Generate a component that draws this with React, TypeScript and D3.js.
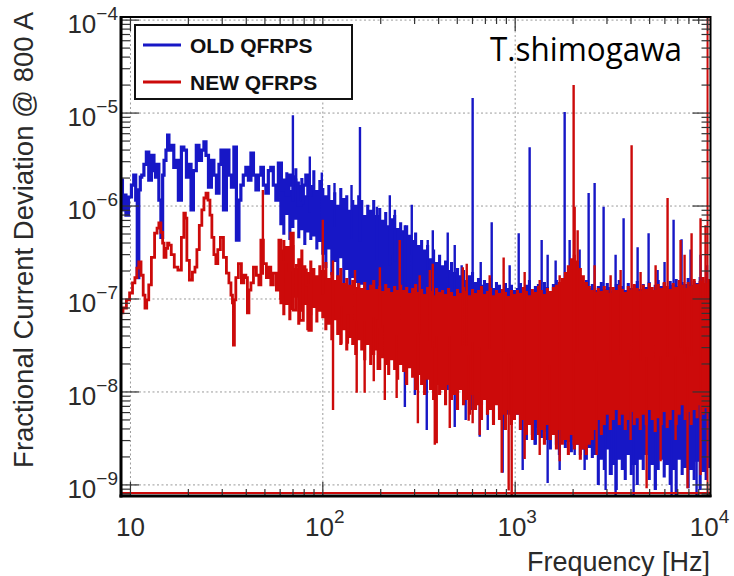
import React from 'react';
import * as d3 from 'd3';

// ---------- axis setup ----------
const X_DOMAIN: [number, number] = [8.93, 10360];
const Y_DOMAIN: [number, number] = [7.6e-10, 1.08e-4];
const X_TICKS = [10, 100, 1000, 10000];
const X_TICK_EXP = ['', '2', '3', '4'];
const Y_TICKS = [1e-9, 1e-8, 1e-7, 1e-6, 1e-5, 1e-4];
const Y_TICK_EXP = ['\u22129', '\u22128', '\u22127', '\u22126', '\u22125', '\u22124'];
const X_TITLE = 'Frequency [Hz]';
const Y_TITLE = 'Fractional Current Deviation @ 800 A';
const SERIES_NAMES = ['OLD QFRPS', 'NEW QFRPS'];
const AUTHOR = 'T.shimogawa';

// ---------- frequency bins of the dense noise region [Hz] ----------
const NOISE_FREQ = [
  60.5, 62.7, 65.0, 67.4, 69.9, 72.4, 75.0, 77.8, 80.6, 83.6, 86.6, 89.8, 93.1, 96.5,
  100, 103.7, 107.5, 111.4, 115.4, 119.6, 124.0, 128.5, 133.2, 138.1, 143.1, 148.3, 153.7,
  159.4, 165.2, 171.2, 177.4, 183.9, 190.6, 197.6, 204.8, 212.3, 220.0, 228.0, 236.3, 245.0, 253.9,
  263.2, 272.8, 282.7, 293.0, 303.7, 314.8, 326.3, 338.2, 350.5, 363.3, 376.6, 390.3, 404.6,
  419.3, 434.6, 450.5, 466.9, 484.0, 501.6, 519.9, 538.9, 558.6, 579.0, 600.1, 622.0, 644.7, 668.2,
  692.6, 717.9, 744.1, 771.3, 799.4, 828.6, 858.8, 890.2, 922.7, 956.4, 991.3,
  1027, 1065, 1104, 1144, 1186, 1229, 1274, 1321, 1369, 1419, 1471, 1524, 1580, 1638,
  1697, 1759, 1823, 1890, 1959, 2031, 2105, 2181, 2261, 2344, 2429, 2518,
  2610, 2705, 2804, 2906, 3012, 3122, 3236, 3354, 3477, 3604, 3735, 3872, 4013, 4159, 4311, 4469,
  4632, 4801, 4976, 5158, 5346, 5541, 5743, 5953, 6170, 6395, 6629, 6871, 7121, 7381, 7651, 7930,
  8219, 8519, 8830, 9153, 9487, 9833, 10190,
];

// ---------- OLD QFRPS (blue) ----------
const OLD_TRACE: [number, number][] = [
  [8.93, 1.68e-6], [9.03, 1.9e-6], [9.14, 9.1e-7], [9.36, 1.31e-6], [9.59, 8.0e-7], [9.94, 1.25e-6],
  [10.3, 1.68e-6], [10.5, 2.15e-6], [10.8, 1.16e-6], [10.9, 1.7e-7], [11.2, 1.49e-6], [11.3, 2.05e-6],
  [11.6, 2.15e-6], [11.9, 2.8e-6], [12.3, 3.8e-6], [12.6, 1.9e-6], [13.1, 3.5e-6], [13.4, 2.4e-6],
  [13.6, 2.05e-6], [13.9, 2.8e-6], [14.2, 1.16e-6], [14.6, 4.6e-7], [14.8, 2.15e-6], [15.1, 3.1e-6],
  [15.5, 4.0e-6], [15.7, 5.8e-6], [16.0, 4.0e-6], [16.6, 4.5e-6], [17.0, 2.6e-6], [17.4, 3.1e-6],
  [18.1, 1.16e-6], [18.7, 4.3e-6], [19.2, 4.0e-6], [19.9, 2.05e-6], [20.4, 2.8e-6], [20.9, 9.1e-7],
  [21.6, 2.4e-6], [22.4, 4.5e-6], [23.0, 3.1e-6], [23.8, 4.0e-6], [24.4, 4.9e-6], [25.0, 3.5e-6],
  [25.9, 1.6e-6], [26.8, 3.1e-6], [27.5, 2.15e-6], [28.5, 1.38e-6], [29.2, 2.8e-6], [29.9, 4.0e-6],
  [31.0, 9.1e-7], [32.1, 4.0e-6], [32.9, 2.15e-6], [34.1, 1.6e-6], [34.9, 4.3e-6], [36.2, 4.3e-7],
  [37.1, 1.16e-6], [37.9, 1.68e-6], [39.3, 2.15e-6], [40.3, 2.6e-6], [41.8, 1.9e-6], [42.8, 3.7e-6],
  [44.4, 2.15e-6], [45.4, 1.49e-6], [47.1, 2.15e-6], [48.2, 2.6e-6], [50.0, 1.68e-6], [51.2, 1.38e-6],
  [53.0, 2.4e-6], [54.3, 2.6e-6], [56.3, 1.68e-6], [57.7, 1.16e-6], [59.8, 2.9e-6], [62.0, 1.49e-6],
  [63.5, 1.9e-6], [65.8, 1.31e-6], [67.4, 2.15e-6], [69.0, 1.68e-6], [71.5, 1.9e-6], [73.3, 1.77e-6],
  [75.9, 1.03e-6], [77.8, 1.08e-6], [80.6, 1.68e-6], [82.6, 2.15e-6], [85.6, 1.31e-6], [88.8, 1.49e-6],
];
const OLD_NOISE_HI = [
  2.75e-6, 1.9e-6, 2.31e-6, 1.49e-6, 2.15e-6, 2.55e-6, 1.68e-6, 2.0e-6, 1.31e-6, 2.15e-6, 1.68e-6, 2.43e-6, 1.49e-6, 1.9e-6,
  1.56e-6, 1.31e-6, 1.68e-6, 1.16e-6, 1.41e-6, 1.03e-6, 1.56e-6, 1.22e-6, 1.31e-6, 9.1e-7, 1.16e-6, 1.03e-6, 1.31e-6,
  1.16e-6, 8.0e-7, 1.03e-6, 9.1e-7, 1.16e-6, 8.0e-7, 9.5e-7, 7.1e-7, 8.6e-7, 6.2e-7, 7.4e-7, 8.0e-7, 5.8e-7, 6.7e-7,
  5.5e-7, 6.2e-7, 4.9e-7, 4.3e-7, 5.2e-7, 3.8e-7, 4.3e-7, 3.4e-7, 3.8e-7, 2.75e-7, 3.4e-7, 2.5e-7, 3.0e-7,
  2.3e-7, 2.6e-7, 2.05e-7, 2.5e-7, 1.95e-7, 2.15e-7, 1.8e-7, 2.05e-7, 1.6e-7, 1.8e-7, 1.95e-7, 1.52e-7, 1.68e-7, 1.42e-7,
  1.6e-7, 1.49e-7, 1.68e-7, 1.31e-7, 1.52e-7, 1.42e-7, 1.25e-7, 1.49e-7, 1.31e-7, 1.42e-7, 1.25e-7,
  1.31e-7, 1.49e-7, 1.25e-7, 1.42e-7, 1.6e-7, 1.19e-7, 1.38e-7, 1.45e-7, 1.25e-7, 1.52e-7, 1.35e-7, 1.22e-7, 1.45e-7, 1.6e-7,
  1.31e-7, 1.42e-7, 1.68e-7, 1.49e-7, 1.25e-7, 1.52e-7, 1.38e-7, 1.19e-7, 1.42e-7, 1.6e-7, 1.31e-7, 1.45e-7,
  1.25e-7, 1.38e-7, 1.52e-7, 1.28e-7, 1.49e-7, 1.35e-7, 1.22e-7, 1.45e-7, 1.6e-7, 1.38e-7, 1.25e-7, 1.49e-7, 1.31e-7, 1.42e-7, 1.56e-7, 1.28e-7,
  1.45e-7, 1.35e-7, 1.52e-7, 1.25e-7, 1.42e-7, 1.6e-7, 1.38e-7, 1.49e-7, 1.31e-7, 1.56e-7, 1.42e-7, 1.64e-7, 1.38e-7, 1.52e-7, 1.45e-7, 1.68e-7,
  1.42e-7, 1.56e-7, 1.49e-7, 1.72e-7, 1.45e-7, 1.6e-7, 1.52e-7,
];
const OLD_NOISE_LO = [
  6.2e-7, 4.9e-7, 8.0e-7, 4.3e-7, 5.8e-7, 7.1e-7, 4.5e-7, 5.5e-7, 3.8e-7, 5.2e-7, 4.3e-7, 4.7e-7, 3.4e-7, 4.1e-7,
  3.0e-7, 2.15e-7, 3.4e-7, 1.8e-7, 2.5e-7, 1.6e-7, 2.75e-7, 1.42e-7, 2.05e-7, 1.25e-7, 1.68e-7, 1.49e-7, 1.31e-7,
  1.42e-7, 1.1e-7, 1.25e-7, 9.8e-8, 1.19e-7, 8.6e-8, 1.03e-7, 7.6e-8, 9.8e-8, 8.6e-8, 7.3e-8, 8.0e-8, 6.7e-8, 7.6e-8,
  5.2e-8, 3.6e-8, 4.6e-8, 2.8e-8, 4.1e-8, 3.2e-8, 2.2e-8, 3.6e-8, 2.5e-8, 2.8e-8, 1.95e-8, 3.2e-8, 2.2e-8,
  2.2e-8, 1.35e-8, 1.72e-8, 9.3e-9, 1.95e-8, 1.19e-8, 1.52e-8, 8.2e-9, 1.35e-8, 1.05e-8, 6.4e-9, 1.19e-8, 9.3e-9, 7.2e-9,
  1.05e-8, 5.7e-9, 8.2e-9, 5.0e-9, 9.3e-9, 6.4e-9, 3.9e-9, 7.2e-9, 5.7e-9, 4.4e-9, 6.4e-9,
  5.7e-9, 3.9e-9, 5.0e-9, 3.05e-9, 4.4e-9, 3.45e-9, 2.7e-9, 4.1e-9, 3.2e-9, 3.7e-9, 3.05e-9, 2.4e-9, 3.45e-9, 2.7e-9,
  2.1e-9, 3.2e-9, 2.5e-9, 2.9e-9, 2.25e-9, 3.05e-9, 2.7e-9, 2.1e-9, 2.4e-9, 1.86e-9, 2.5e-9, 1.95e-9,
  2.1e-9, 1.0e-9, 1.86e-9, 1.45e-9, 2.4e-9, 1.28e-9, 1.64e-9, 8.8e-10, 1.86e-9, 1.45e-9, 1.13e-9, 2.1e-9, 1.28e-9, 1.64e-9, 1.0e-9, 1.86e-9,
  1.45e-9, 2.1e-9, 1.13e-9, 1.64e-9, 8.8e-10, 1.45e-9, 1.86e-9, 1.2e-9, 1.64e-9, 1.0e-9, 1.45e-9, 7.8e-10, 1.86e-9, 1.28e-9, 1.52e-9, 9.2e-10,
  1.45e-9, 1.13e-9, 1.77e-9, 8.8e-10, 1.38e-9, 1.13e-9, 1.52e-9,
];
// single-bin peaks and dips [Hz, value]
const OLD_SPIKES: [number, number][] = [
  [69.9, 9.5e-6], [85.6, 3.4e-6], [98.8, 2.3e-6], [115, 1.77e-6], [141, 1.68e-6], [156, 7.1e-6],
  [191, 9.8e-7], [223, 1.31e-6], [237, 9.1e-7], [267, 6.2e-7], [290, 1.03e-6], [351, 4.3e-7],
  [373, 5.5e-7], [446, 5.2e-7], [485, 3.8e-7], [527, 2.3e-7], [601, 1.45e-5], [662, 2.5e-7],
  [755, 6.7e-7], [936, 2.3e-7], [1043, 5.1e-7], [1189, 4.3e-6], [1373, 4.3e-7], [1475, 3.0e-7],
  [1623, 2.6e-7], [1808, 1.03e-5], [1919, 4.3e-7], [2163, 3.4e-7], [2409, 1.38e-6], [2588, 1.77e-6],
  [2882, 9.8e-7], [3327, 3.0e-7], [3661, 7.4e-7], [4330, 3.6e-7], [4938, 5.1e-7], [5500, 2.05e-7],
  [5978, 2.5e-7], [6660, 7.1e-7], [7328, 4.4e-7], [8160, 3.4e-7], [9197, 3.0e-7], [9940, 2.3e-7],
  [267, 6.9e-9], [301, 9.3e-9], [347, 3.9e-9], [446, 1.05e-8], [485, 4.2e-9], [553, 5.0e-9],
  [654, 3.3e-9], [720, 3.9e-9], [861, 1.35e-9], [1094, 1.45e-9], [1263, 2.7e-9], [1475, 1.05e-9],
  [1703, 1.45e-9], [2038, 2.1e-9], [2296, 1.45e-9], [2952, 8.8e-10], [3172, 1.28e-9], [3327, 7.4e-10],
  [4127, 7.4e-10], [5370, 8.8e-10], [6501, 7.4e-10], [8769, 7.4e-10],
];

// ---------- NEW QFRPS (red) ----------
const NEW_TRACE: [number, number][] = [
  [8.93, 7.1e-8], [9.36, 8.0e-8], [9.70, 9.8e-8], [10.1, 1.16e-7], [10.4, 1.49e-7], [10.7, 1.7e-7],
  [10.9, 2.15e-7], [11.2, 2.5e-7], [11.5, 1.8e-7], [11.8, 1.1e-7], [12.0, 8.0e-8], [12.3, 9.8e-8],
  [12.6, 1.42e-7], [13.1, 2.8e-7], [13.6, 5.1e-7], [13.9, 5.8e-7], [14.2, 6.6e-7], [14.6, 5.2e-7],
  [14.8, 4.0e-7], [15.1, 2.8e-7], [15.5, 3.5e-7], [15.7, 4.0e-7], [16.0, 3.8e-7], [16.6, 3.0e-7],
  [17.2, 2.2e-7], [18.1, 2.05e-7], [18.7, 4.6e-7], [19.2, 8.4e-7], [19.4, 7.4e-7], [19.9, 2.6e-7],
  [20.6, 1.6e-7], [21.4, 1.95e-7], [21.9, 2.2e-7], [22.4, 3.4e-7], [23.2, 6.2e-7], [23.8, 9.1e-7],
  [24.4, 1.22e-6], [25.0, 1.38e-6], [25.6, 1.16e-6], [26.2, 8.0e-7], [26.8, 4.6e-7], [27.5, 3.0e-7],
  [28.1, 2.4e-7], [28.8, 3.4e-7], [29.9, 4.6e-7], [31.0, 2.8e-7], [32.1, 1.9e-7], [32.9, 1.49e-7],
  [33.7, 1.1e-7], [34.1, 9.1e-8], [34.5, 3.2e-8], [34.9, 9.8e-8], [35.7, 1.7e-7], [37.1, 2.4e-7],
  [38.4, 1.49e-7], [39.3, 1.8e-7], [40.3, 1.7e-7], [40.8, 7.1e-8], [41.8, 1.25e-7], [42.8, 1.49e-7],
  [44.4, 2.2e-7], [45.9, 1.8e-7], [47.1, 1.42e-7], [48.2, 4.3e-7], [50.0, 2.4e-7], [51.8, 1.7e-7],
  [53.0, 2.2e-7], [54.3, 1.42e-7], [56.3, 1.9e-7], [58.4, 1.25e-7], [59.8, 4.3e-7], [61.2, 9.1e-8],
  [63.5, 2.5e-7], [65.8, 3.6e-7], [67.4, 2.05e-7], [69.0, 5.1e-7], [71.5, 7.6e-8], [74.2, 2.3e-7],
  [77.8, 5.9e-8], [80.6, 2.05e-7], [83.6, 1.42e-7], [85.6, 4.6e-8], [88.8, 1.8e-7],
];
const NEW_NOISE_HI = [
  3.4e-7, 4.3e-7, 2.5e-7, 3.0e-7, 3.8e-7, 2.15e-7, 2.75e-7, 3.4e-7, 2.3e-7, 1.95e-7, 2.6e-7, 2.15e-7, 1.8e-7, 2.3e-7,
  2.05e-7, 2.5e-7, 1.68e-7, 1.95e-7, 1.6e-7, 1.8e-7, 2.15e-7, 1.49e-7, 1.68e-7, 1.42e-7, 1.6e-7, 1.35e-7, 1.49e-7,
  1.31e-7, 1.52e-7, 1.25e-7, 1.42e-7, 1.6e-7, 1.28e-7, 1.38e-7, 1.22e-7, 1.45e-7, 1.31e-7, 1.19e-7, 1.38e-7, 1.25e-7, 1.42e-7,
  1.25e-7, 1.35e-7, 1.16e-7, 1.31e-7, 1.45e-7, 1.19e-7, 1.28e-7, 1.13e-7, 1.35e-7, 1.22e-7, 1.1e-7, 1.31e-7, 1.19e-7,
  1.25e-7, 1.13e-7, 1.31e-7, 1.19e-7, 1.08e-7, 1.28e-7, 1.16e-7, 1.35e-7, 1.22e-7, 1.1e-7, 1.28e-7, 1.16e-7, 1.25e-7, 1.38e-7,
  1.13e-7, 1.22e-7, 1.31e-7, 1.1e-7, 1.25e-7, 1.16e-7, 1.28e-7, 1.19e-7, 1.08e-7, 1.25e-7, 1.13e-7,
  1.25e-7, 1.16e-7, 1.35e-7, 1.22e-7, 1.1e-7, 1.28e-7, 1.19e-7, 1.38e-7, 1.25e-7, 1.13e-7, 1.31e-7, 1.22e-7, 1.35e-7, 1.42e-7,
  1.52e-7, 1.68e-7, 1.95e-7, 2.3e-7, 2.75e-7, 3.0e-7, 2.6e-7, 2.15e-7, 1.8e-7, 1.52e-7, 1.38e-7, 1.25e-7,
  1.19e-7, 1.31e-7, 1.22e-7, 1.38e-7, 1.25e-7, 1.16e-7, 1.35e-7, 1.25e-7, 1.42e-7, 1.28e-7, 1.19e-7, 1.38e-7, 1.25e-7, 1.45e-7, 1.31e-7, 1.22e-7,
  1.42e-7, 1.28e-7, 1.49e-7, 1.35e-7, 1.25e-7, 1.45e-7, 1.31e-7, 1.52e-7, 1.38e-7, 1.28e-7, 1.49e-7, 1.35e-7, 1.6e-7, 1.42e-7, 1.31e-7, 1.52e-7,
  1.38e-7, 1.64e-7, 1.45e-7, 1.56e-7, 1.72e-7, 1.49e-7, 1.64e-7,
];
const NEW_NOISE_LO = [
  9.8e-8, 6.7e-8, 8.6e-8, 5.9e-8, 7.6e-8, 1.03e-7, 5.3e-8, 7.3e-8, 8.6e-8, 4.6e-8, 6.7e-8, 8.0e-8, 5.6e-8, 7.3e-8,
  6.2e-8, 4.6e-8, 5.3e-8, 3.6e-8, 5.9e-8, 4.1e-8, 3.2e-8, 4.6e-8, 2.8e-8, 3.8e-8, 3.2e-8, 2.5e-8, 3.6e-8,
  2.8e-8, 2.2e-8, 3.2e-8, 1.95e-8, 2.5e-8, 2.8e-8, 1.72e-8, 2.3e-8, 1.95e-8, 1.52e-8, 2.2e-8, 1.72e-8, 1.35e-8, 1.95e-8,
  1.64e-8, 1.19e-8, 1.8e-8, 1.42e-8, 1.05e-8, 1.52e-8, 1.19e-8, 9.3e-9, 1.35e-8, 1.05e-8, 8.2e-9, 1.19e-8, 9.3e-9,
  1.05e-8, 7.2e-9, 1.19e-8, 8.2e-9, 9.3e-9, 6.4e-9, 1.05e-8, 7.2e-9, 8.2e-9, 5.7e-9, 9.3e-9, 6.4e-9, 7.2e-9, 5.0e-9,
  8.2e-9, 5.7e-9, 6.4e-9, 4.4e-9, 7.2e-9, 5.0e-9, 5.7e-9, 3.9e-9, 6.4e-9, 4.4e-9, 5.0e-9,
  5.7e-9, 3.9e-9, 5.0e-9, 3.45e-9, 4.4e-9, 3.05e-9, 5.0e-9, 3.45e-9, 3.9e-9, 2.7e-9, 4.4e-9, 3.05e-9, 3.45e-9, 2.4e-9,
  3.9e-9, 2.7e-9, 3.05e-9, 2.1e-9, 3.45e-9, 2.4e-9, 2.7e-9, 1.86e-9, 2.4e-9, 2.1e-9, 2.7e-9, 3.05e-9,
  3.9e-9, 5.0e-9, 3.45e-9, 4.4e-9, 5.7e-9, 3.9e-9, 5.0e-9, 6.4e-9, 4.4e-9, 5.7e-9, 3.9e-9, 5.0e-9, 6.1e-9, 4.4e-9, 5.2e-9, 3.9e-9,
  5.7e-9, 4.4e-9, 6.4e-9, 5.0e-9, 3.7e-9, 5.2e-9, 4.4e-9, 6.1e-9, 4.1e-9, 5.0e-9, 6.4e-9, 4.4e-9, 5.7e-9, 7.2e-9, 5.0e-9, 6.1e-9,
  4.4e-9, 6.4e-9, 5.2e-9, 7.2e-9, 5.7e-9, 6.7e-9, 6.1e-9,
];
const NEW_SPIKES: [number, number][] = [
  [48.8, 1.49e-6], [100, 7.1e-7], [113, 2.6e-7], [147, 2.05e-7], [198, 2.2e-7], [251, 4.3e-7],
  [319, 1.8e-7], [360, 2.05e-7], [373, 2.4e-7], [534, 2.2e-7], [560, 2.4e-7], [737, 1.8e-7],
  [871, 2.8e-7], [1120, 1.95e-7], [1341, 1.6e-7], [1703, 1.8e-7], [2013, 2.0e-5], [2038, 9.8e-7],
  [2112, 5.5e-7], [2588, 2.3e-7], [3134, 1.8e-7], [3533, 2.05e-7], [4029, 4.5e-6], [4486, 1.95e-7],
  [5370, 2.3e-7], [6197, 1.22e-6], [7240, 4.3e-7], [7596, 3.0e-7], [8260, 5.1e-7], [9197, 7.4e-7],
  [9764, 6.2e-7],
  [113, 6.4e-9], [125, 3.3e-8], [135, 3.3e-8], [150, 9.8e-9], [165, 9.8e-9], [184, 1.3e-8],
  [193, 1.72e-8], [210, 8.2e-9], [242, 8.6e-9], [312, 4.6e-9], [382, 2.7e-9], [391, 2.8e-9],
  [457, 4.1e-9], [573, 4.9e-9], [601, 4.6e-9], [654, 3.45e-9], [851, 1.35e-9], [925, 8.7e-10],
  [959, 7.4e-10], [1120, 1.9e-9], [1341, 2.1e-9], [1511, 3.05e-9], [1703, 1.8e-9], [2013, 2.7e-9],
  [2651, 2.1e-9], [3981, 3.05e-9], [4822, 9.2e-10], [5700, 1.8e-9], [6821, 3.05e-9], [7872, 9.2e-10],
  [9197, 1.28e-9],
];

// ---------- layout ----------
const W = 734, H = 576;
const PL = 121, PR = 710.5, PT = 17, PB = 496;
const BLUE = '#1717c6';
const RED = '#cc0a0a';
const FONT = 'Liberation Sans, Arial, Helvetica, sans-serif';

function nearestMid(f: number, lo: number[], hi: number[]): number {
  let best = 0, bd = Infinity;
  NOISE_FREQ.forEach((nf, i) => {
    const d = Math.abs(Math.log(nf / f));
    if (d < bd) { bd = d; best = i; }
  });
  return Math.sqrt(lo[best] * hi[best]);
}

export default function App() {
  const x = d3.scaleLog().domain(X_DOMAIN).range([PL, PR]);
  const y = d3.scaleLog().domain(Y_DOMAIN).range([PB, PT]);
  const trace = d3.line<[number, number]>().x(d => x(d[0])).y(d => y(d[1])).curve(d3.curveStep);
  const noise = (lo: number[], hi: number[]) =>
    NOISE_FREQ.map((f, i) => `M${x(f)},${y(lo[i])}L${x(f)},${y(hi[i])}`).join('');
  const spikes = (list: [number, number][], lo: number[], hi: number[]) =>
    list.map(([f, v]) => `M${x(f)},${y(nearestMid(f, lo, hi))}L${x(f)},${y(v)}`).join('');

  const xMinor: number[] = [];
  for (let k = 0; k <= 4; k++) for (let m = 2; m <= 9; m++) {
    const v = m * Math.pow(10, k);
    if (v >= X_DOMAIN[0] && v <= X_DOMAIN[1]) xMinor.push(v);
  }
  const yMinor: number[] = [];
  for (let k = -10; k <= -4; k++) for (let m = 2; m <= 9; m++) {
    const v = m * Math.pow(10, k);
    if (v >= Y_DOMAIN[0] && v <= Y_DOMAIN[1]) yMinor.push(v);
  }

  return (
    <svg width={W} height={H} style={{ position: 'absolute', left: 0, top: 0, background: '#fff' }}>
      <defs>
        <clipPath id="plot"><rect x={PL} y={PT} width={PR - PL} height={PB - PT} /></clipPath>
      </defs>
      <rect x={0} y={0} width={W} height={H} fill="#fff" />
      {/* grid */}
      <g stroke="#9a9a9a" strokeWidth={1} strokeDasharray="2,2.5">
        {X_TICKS.map(t => <line key={'gx' + t} x1={x(t)} x2={x(t)} y1={PT} y2={PB} />)}
        {Y_TICKS.map(t => <line key={'gy' + t} x1={PL} x2={PR} y1={y(t)} y2={y(t)} />)}
      </g>
      {/* data */}
      <g clipPath="url(#plot)" fill="none">
        <path d={noise(OLD_NOISE_LO, OLD_NOISE_HI)} stroke={BLUE} strokeWidth={3.1} />
        <path d={trace(OLD_TRACE) || ''} stroke={BLUE} strokeWidth={3.2} />
        <path d={spikes(OLD_SPIKES, OLD_NOISE_LO, OLD_NOISE_HI)} stroke={BLUE} strokeWidth={2.4} />
        <path d={noise(NEW_NOISE_LO, NEW_NOISE_HI)} stroke={RED} strokeWidth={3.1} />
        <path d={trace(NEW_TRACE) || ''} stroke={RED} strokeWidth={2.8} />
        <path d={spikes(NEW_SPIKES, NEW_NOISE_LO, NEW_NOISE_HI)} stroke={RED} strokeWidth={2.4} />
        <line x1={PL} x2={PR} y1={PB - 3} y2={PB - 3} stroke={RED} strokeWidth={2} />
        <line x1={x(10000)} x2={x(10000)} y1={PT} y2={PB} stroke={RED} strokeWidth={2} />
      </g>
      {/* ticks */}
      <g stroke="#333" strokeWidth={1.2}>
        {X_TICKS.map(t => (
          <g key={'tx' + t}>
            <line x1={x(t)} x2={x(t)} y1={PB} y2={PB - 14} />
            <line x1={x(t)} x2={x(t)} y1={PT} y2={PT + 14} />
          </g>
        ))}
        {xMinor.map(t => (
          <g key={'mx' + t}>
            <line x1={x(t)} x2={x(t)} y1={PB} y2={PB - 7} />
            <line x1={x(t)} x2={x(t)} y1={PT} y2={PT + 7} />
          </g>
        ))}
        {Y_TICKS.map(t => (
          <g key={'ty' + t}>
            <line x1={PL} x2={PL + 18} y1={y(t)} y2={y(t)} />
            <line x1={PR} x2={PR - 18} y1={y(t)} y2={y(t)} />
          </g>
        ))}
        {yMinor.map(t => (
          <g key={'my' + t}>
            <line x1={PL} x2={PL + 9} y1={y(t)} y2={y(t)} />
            <line x1={PR} x2={PR - 9} y1={y(t)} y2={y(t)} />
          </g>
        ))}
      </g>
      {/* frame */}
      <rect x={PL} y={PT} width={PR - PL} height={PB - PT} fill="none" stroke="#000" strokeWidth={2} />
      <line x1={PL} x2={PL} y1={PT - 1} y2={PB + 1.5} stroke="#000" strokeWidth={3} />
      <line x1={PL - 1.5} x2={PR + 1} y1={PB} y2={PB} stroke="#000" strokeWidth={3} />
      {/* tick labels */}
      <g fontFamily={FONT} fill="#2a2a2a">
        {Y_TICKS.map((t, i) => (
          <text key={'ly' + t} x={118} y={y(t) + 13} textAnchor="end" fontSize={26}>
            10<tspan dy={-13} fontSize={19}>{Y_TICK_EXP[i]}</tspan>
          </text>
        ))}
        {X_TICKS.map((t, i) => (
          <text key={'lx' + t} x={x(t) + (i === 0 ? 0 : 2)} y={536} textAnchor="middle" fontSize={26}>
            10{X_TICK_EXP[i] && <tspan dy={-13} fontSize={19}>{X_TICK_EXP[i]}</tspan>}
          </text>
        ))}
        <text x={710} y={571} textAnchor="end" fontSize={27}>{X_TITLE}</text>
        <text transform="translate(33,12) rotate(-90)" textAnchor="end" fontSize={27.5}>{Y_TITLE}</text>
      </g>
      {/* legend */}
      <rect x={135} y={25} width={217} height={74} fill="#fff" stroke="#111" strokeWidth={2} />
      <line x1={143} x2={181} y1={45} y2={45} stroke={BLUE} strokeWidth={3} />
      <line x1={143} x2={181} y1={82} y2={82} stroke={RED} strokeWidth={3} />
      <g fontFamily={FONT} fontWeight="bold" fontSize={21} fill="#111">
        <text x={190} y={52.5}>{SERIES_NAMES[0]}</text>
        <text x={190} y={89.5}>{SERIES_NAMES[1]}</text>
      </g>
      <text x={490} y={61} fontFamily="Open Sans, Lato, sans-serif" fontSize={32} fill="#000" textLength={192} lengthAdjust="spacingAndGlyphs">{AUTHOR}</text>
    </svg>
  );
}
